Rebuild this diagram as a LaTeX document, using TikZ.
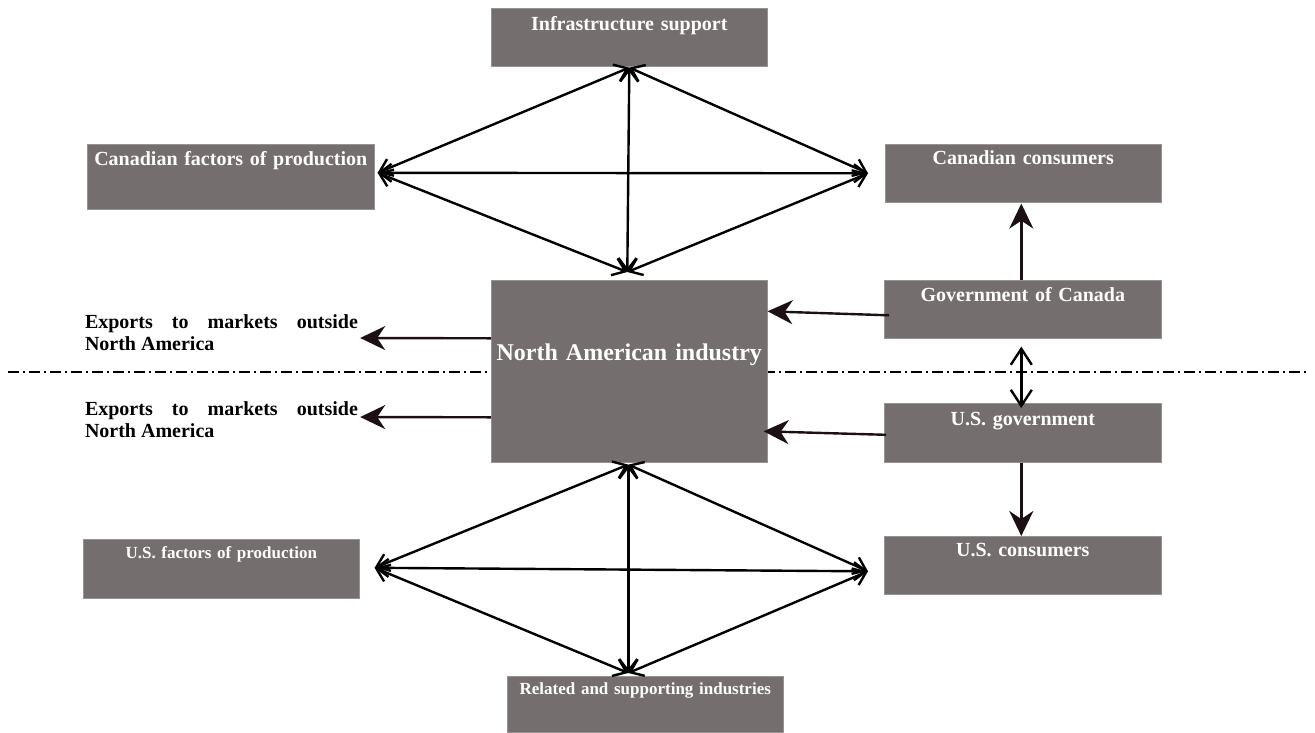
\documentclass[tikz,border=0pt]{standalone}
\usepackage{fontspec}
\setmainfont{Liberation Serif}
\usetikzlibrary{arrows.meta,calc}
\definecolor{panelgray}{RGB}{116,111,110}
\definecolor{ink}{RGB}{28,16,20}

\begin{document}
\begin{tikzpicture}[x=1pt,y=-1pt,
  panel/.style={draw=panelgray!75!white, line width=0.6pt, fill=panelgray,
    text=white, anchor=north west, inner xsep=0pt, inner ysep=0pt,
    align=center, font=\bfseries\fontsize{20}{22}\selectfont},
  smallpanel/.style={panel, font=\bfseries\fontsize{17}{19}\selectfont},
  exportnote/.style={inner sep=0pt, text width=273pt, align=justify,
    font=\bfseries\fontsize{20}{22}\selectfont},
  link/.style={{Straight Barb[length=12pt,width=18pt]}-{Straight Barb[length=12pt,width=18pt]},
    line width=2.4pt, black},
  govlink/.style={{Straight Barb[length=16pt,width=21pt]}-{Straight Barb[length=16pt,width=21pt]},
    line width=2.4pt, black},
  pointer/.style={-{Stealth[length=25pt,width=24pt,inset=8pt]}, line width=2.4pt, ink},
  divider/.style={line width=1.2pt, black, dash pattern=on 11pt off 4pt on 2pt off 4pt}]

\useasboundingbox (0,0) rectangle (1315,732);

% border between the Canadian and the U.S. halves
\coordinate (divL) at (8,372);
\coordinate (divR) at (1308,372);
\draw[divider] (divL) -- (divR);

% panels
\node[panel, text width=276pt, text height=22pt, text depth=36pt] (ib) at (491,8) {Infrastructure support};
\node[panel, text width=287pt, text height=21pt, text depth=44pt] (cf) at (87,144) {Canadian factors of production};
\node[panel, text width=276pt, text height=20pt, text depth=38pt] (cc) at (885,144) {Canadian consumers};
\node[panel, font=\bfseries\fontsize{24}{26}\selectfont, text width=276pt, text height=80pt, text depth=102pt] (na) at (491,280) {North American industry};
\node[panel, text width=277pt, text height=21pt, text depth=37pt] (gc) at (884,280) {Government of Canada};
\node[panel, text width=277pt, text height=22pt, text depth=37pt] (ug) at (884,403) {U.S. government};
\node[panel, text width=277pt, text height=20pt, text depth=38pt] (uc) at (884,536) {U.S. consumers};
\node[smallpanel, text width=276pt, text height=19pt, text depth=40pt] (uf) at (83,539) {U.S. factors of production};
\node[smallpanel, text width=276pt, text height=18pt, text depth=38pt] (rs) at (507,676) {Related and supporting industries};

% export notes
\node[exportnote] (ex1) at (221.5,333) {Exports to markets outside North America};
\node[exportnote] (ex2) at (221.5,420) {Exports to markets outside North America};

% meeting points of the two diamonds
\coordinate (ibP) at ($(ib.south)+(0,1)$);
\coordinate (naT) at ($(na.north)+(-2,-8)$);
\coordinate (cfP) at ($(cf.east)+(3,-4)$);
\coordinate (ccP) at ($(cc.west)+(-17,0)$);
\coordinate (naB) at ($(na.south)+(-1,2)$);
\coordinate (ufP) at ($(uf.east)+(15,-1)$);
\coordinate (ucP) at ($(uc.west)+(-16,6)$);
\coordinate (rsP) at ($(rs.north)+(-17,-3)$);

% Canadian diamond
\draw[link] (cfP) -- (ibP);
\draw[link] (cfP) -- (ccP);
\draw[link] (cfP) -- (naT);
\draw[link] (ibP) -- (naT);
\draw[link] (ibP) -- (ccP);
\draw[link] (ccP) -- (naT);

% U.S. diamond
\draw[link] (naB) -- (ufP);
\draw[link] (naB) -- (ucP);
\draw[link] (naB) -- (rsP);
\draw[link] (ufP) -- (ucP);
\draw[link] (ufP) -- (rsP);
\draw[link] (ucP) -- (rsP);

% exports
\draw[pointer] ($(na.west)+(0,-33)$) -- ($(ex1.east)+(2,5)$);
\draw[pointer] ($(na.west)+(0,46)$) -- ($(ex2.east)+(2,-3)$);

% governments
\draw[pointer] ($(gc.west)+(5,6)$) -- ($(na.east)+(0,-60)$);
\draw[pointer] ($(ug.west)+(2,2)$) -- ($(na.east)+(-4,60)$);
\draw[pointer] ($(gc.north)+(-1.5,0)$) -- ($(cc.south)+(-2,1)$);
\draw[govlink] ($(gc.south)+(-1.5,8)$) -- ($(ug.north)+(-1.5,5)$);
\draw[pointer] ($(ug.south)+(-1.5,0)$) -- ($(uc.north)+(-1.5,0)$);
\end{tikzpicture}
\end{document}
